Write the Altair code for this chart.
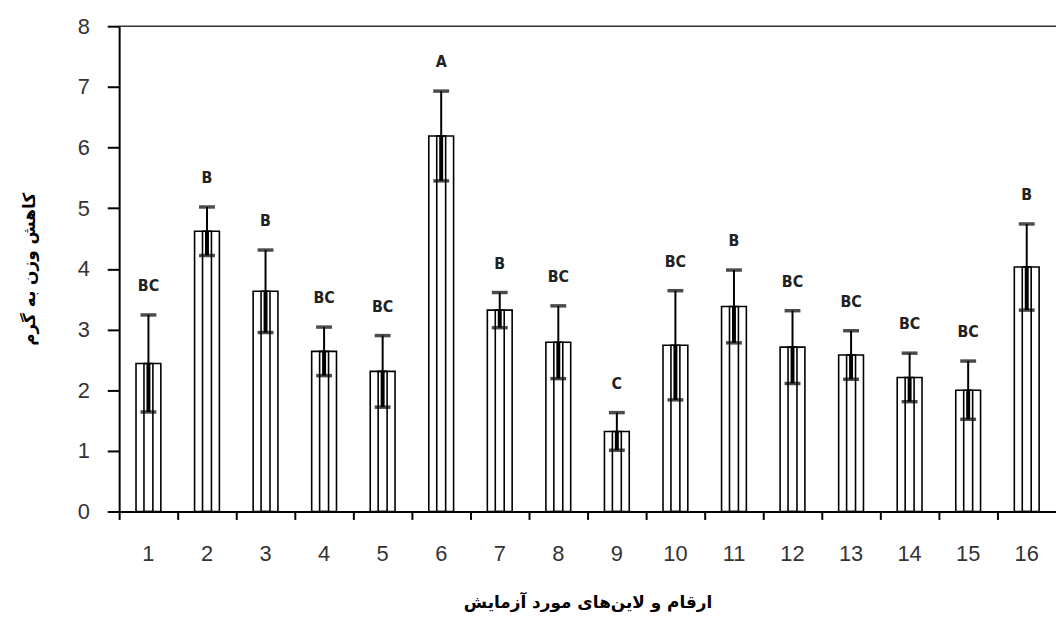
import altair as alt
import pandas as pd

groups = [str(i) for i in range(1, 17)]
means = [2.44, 4.62, 3.63, 2.64, 2.31, 6.19, 3.32, 2.79, 1.32, 2.74, 3.38, 2.71, 2.58, 2.21, 2.00, 4.03]
errors = [0.80, 0.40, 0.68, 0.40, 0.59, 0.74, 0.29, 0.60, 0.31, 0.90, 0.60, 0.60, 0.40, 0.40, 0.48, 0.71]
letters = ["BC", "B", "B", "BC", "BC", "A", "B", "BC", "C", "BC", "B", "BC", "BC", "BC", "BC", "B"]
y_ticks = [0, 1, 2, 3, 4, 5, 6, 7, 8]

y_title = "کاهش وزن به گرم"
x_title = "ارقام و لاین\u200cهای مورد آزمایش"

df = pd.DataFrame({
    "group": groups,
    "mean": means,
    "err": errors,
    "letter": letters,
})
df["lower"] = df["mean"] - df["err"]
df["upper"] = df["mean"] + df["err"]

W = 944
H = 489


def X():
    return alt.X(
        "group:N",
        sort=groups,
        title=x_title,
        scale=alt.Scale(paddingInner=0, paddingOuter=0),
        axis=alt.Axis(
            labelAngle=0,
            tickSize=8,
            labelPadding=24,
            bandPosition=0,
            titleY=92,
            titleBaseline="middle",
        ),
    )


def Y(field):
    return alt.Y(
        field,
        title=y_title,
        scale=alt.Scale(domain=[0, 8], nice=False),
        axis=alt.Axis(
            values=y_ticks,
            tickSize=12,
            labelPadding=18,
            titleX=-90,
            titleBaseline="middle",
        ),
    )


base = alt.Chart(df)

outer = base.mark_bar(size=25, fill="white", stroke="black", strokeWidth=1.6).encode(
    x=X(), y=Y("mean:Q")
)
inner = base.mark_bar(size=9, fill="white", fillOpacity=0, stroke="black", strokeWidth=1.6).encode(
    x=X(), y=Y("mean:Q")
)
err_low = base.mark_rule(color="black", strokeWidth=4).encode(
    x=X(), y=Y("lower:Q"), y2="mean:Q"
)
err_up = base.mark_rule(color="black", strokeWidth=2).encode(
    x=X(), y=Y("mean:Q"), y2="upper:Q"
)
cap_up = base.mark_tick(color="black", size=16, thickness=3.5).encode(
    x=X(), y=Y("upper:Q")
)
cap_low = base.mark_tick(color="black", size=16, thickness=3.5).encode(
    x=X(), y=Y("lower:Q")
)
labels = base.mark_text(
    dy=-29, baseline="middle", font="DejaVu Sans Condensed", fontWeight="bold",
    fontSize=16, color="#222"
).encode(x=X(), y=Y("upper:Q"), text="letter:N")

top_line = alt.Chart(pd.DataFrame({"top": [8]})).mark_rule(color="#333", strokeWidth=1.5).encode(
    y=Y("top:Q")
)

chart = alt.layer(outer, inner, err_low, err_up, cap_up, cap_low, labels, top_line).properties(
    width=W,
    height=H,
    autosize=alt.AutoSizeParams(type="none"),
    padding={"left": 112, "top": 16, "right": 0, "bottom": 108},
).configure_view(stroke=None).configure_axis(
    grid=False,
    domainColor="black",
    domainWidth=2,
    tickColor="black",
    tickWidth=2,
    labelFont="Liberation Sans",
    labelFontSize=22,
    labelColor="#333",
    titleFont="DejaVu Sans",
    titleFontWeight="bold",
    titleFontSize=17,
    titleColor="black",
)

chart.save("out.html", embed_options={"renderer": "svg", "actions": False})
